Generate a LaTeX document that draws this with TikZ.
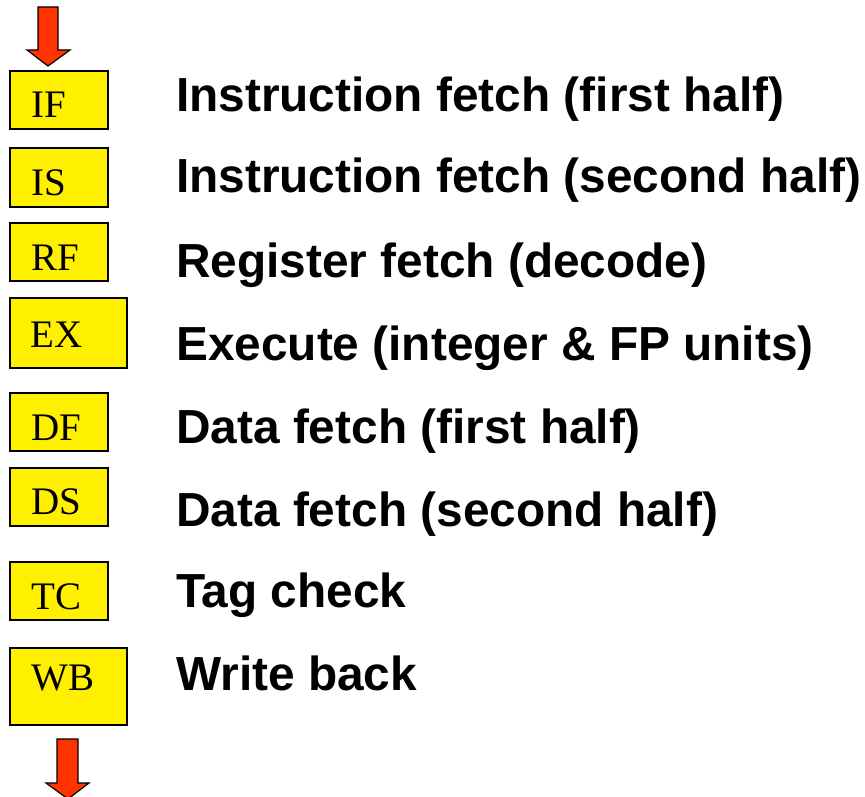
\documentclass[tikz,border=0pt]{standalone}
\usepackage{fontspec}
\setmainfont{Liberation Sans}
\newfontfamily\boxfont{Liberation Serif}
\definecolor{stageyellow}{RGB}{255,240,0}
\definecolor{arrowred}{RGB}{255,51,0}
\tikzset{
  stagebox/.style={draw=black, line width=2pt, fill=stageyellow, inner sep=0pt, anchor=north west},
  stagetext/.style={font=\boxfont\fontsize{39}{44}\selectfont, inner sep=0pt, anchor=base west},
  desc/.style={font=\bfseries\fontsize{47.8}{56}\selectfont, inner sep=0pt, anchor=base west},
  bigarrow/.style={draw=black, line width=1.2pt, fill=arrowred, line join=miter}
}
\begin{document}
\begin{tikzpicture}[x=1pt,y=-1pt]
\useasboundingbox (0,0) rectangle (865,797);
\clip (0,0) rectangle (865,797);
% top arrow
\draw[bigarrow] (38,7) -- (58,7) -- (58,50) -- (70,50) -- (48,66) -- (27,50) -- (38,50) -- cycle;
% boxes
\node[stagebox, minimum width=98pt, minimum height=58pt] (bif) at (9,70) {};
\node[stagebox, minimum width=98pt, minimum height=59pt] (bis) at (9,147) {};
\node[stagebox, minimum width=98pt, minimum height=58pt] (brf) at (9,222) {};
\node[stagebox, minimum width=117pt, minimum height=70pt] (bex) at (9,297) {};
\node[stagebox, minimum width=98pt, minimum height=58pt] (bdf) at (9,392) {};
\node[stagebox, minimum width=98pt, minimum height=58pt] (bds) at (9,467) {};
\node[stagebox, minimum width=98pt, minimum height=58pt] (btc) at (9,561) {};
\node[stagebox, minimum width=117pt, minimum height=77pt] (bwb) at (9,647) {};
% box texts
\node[stagetext] (tif) at (31,118) {IF};
\node[stagetext] (tis) at (31,196) {IS};
\node[stagetext] (trf) at (31,270) {RF};
\node[stagetext] (tex) at (30,347) {EX};
\node[stagetext] (tdf) at (31,440) {DF};
\node[stagetext] (tds) at (31,514) {DS};
\node[stagetext] (ttc) at (31,609) {TC};
\node[stagetext] (twb) at (31,690) {WB};
% descriptions
\node[desc] (dif) at (176,112) {Instruction fetch (first half)};
\node[desc] (dis) at (176,193) {Instruction fetch (second half)};
\node[desc] (drf) at (176,277) {Register fetch (decode)};
\node[desc] (dex) at (176,360) {Execute (integer \& FP units)};
\node[desc] (ddf) at (176,443) {Data fetch (first half)};
\node[desc] (dds) at (176,526) {Data fetch (second half)};
\node[desc] (dtc) at (176,607) {Tag check};
\node[desc] (dwb) at (176,690) {Write back};
% bottom arrow
\draw[bigarrow] (57,739) -- (78,739) -- (78,783) -- (89,783) -- (68,799) -- (46,783) -- (57,783) -- cycle;
\end{tikzpicture}
\end{document}
